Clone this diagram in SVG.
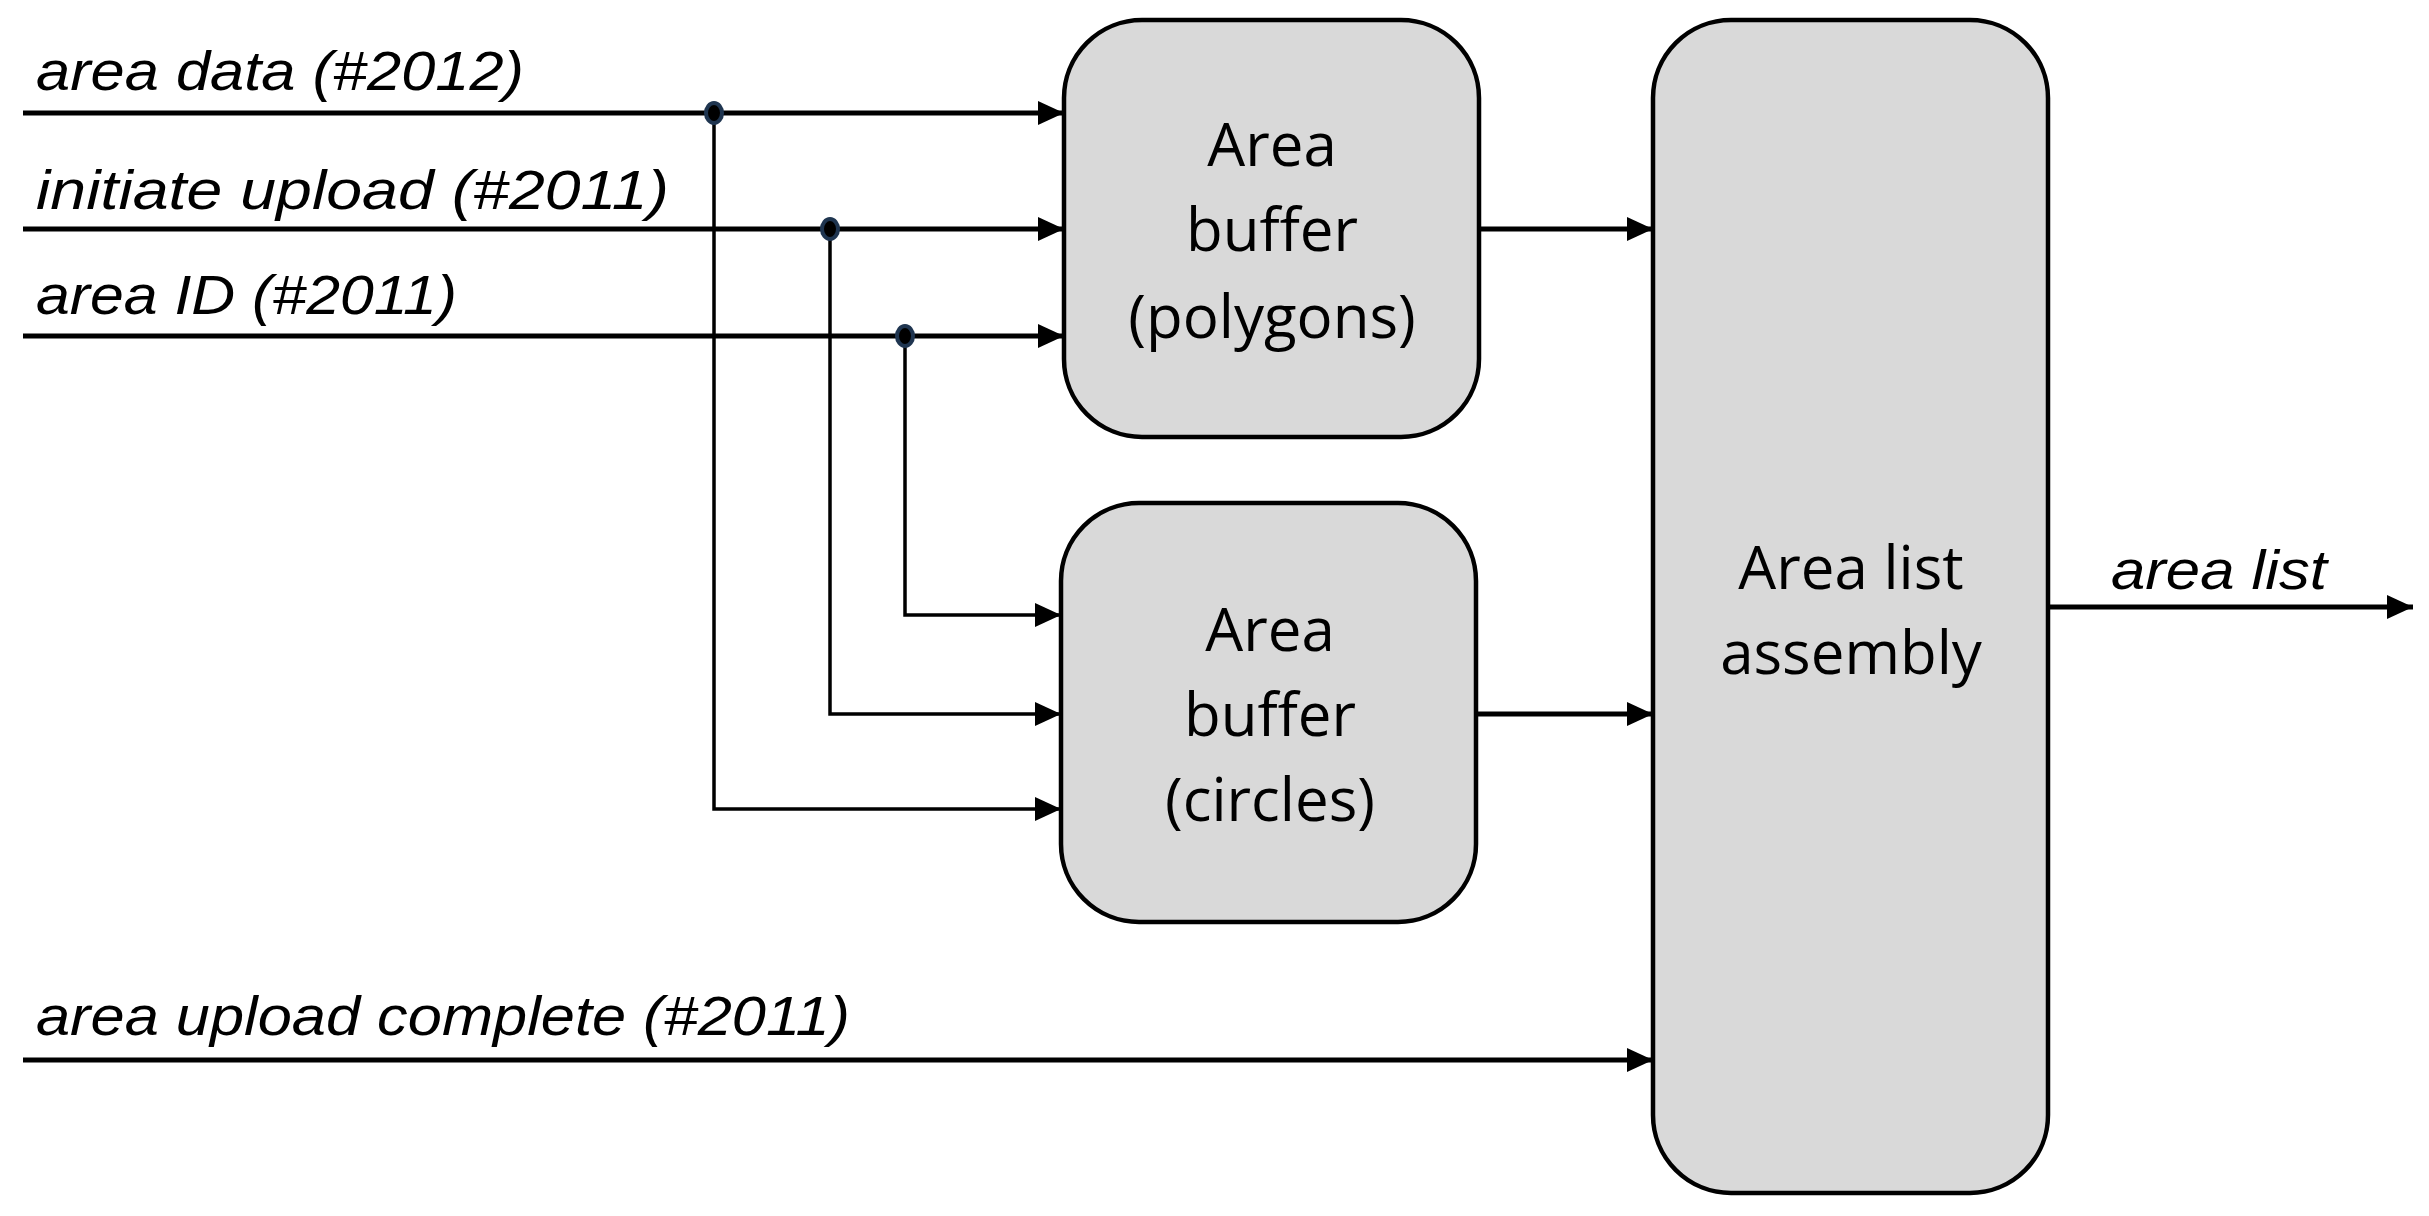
<svg xmlns="http://www.w3.org/2000/svg" width="2429" height="1216" viewBox="0 0 2429 1216">
<style>
.box{fill:#d9d9d9;stroke:#000;stroke-width:4.5}
.ln{fill:none;stroke:#000;stroke-width:5}
.vl{fill:none;stroke:#000;stroke-width:3.5}
.lbl{font-family:"Liberation Sans",Arial,sans-serif;font-style:italic;font-size:56px;fill:#000}
.bt{font-family:"Open Sans","Liberation Sans",sans-serif;font-size:60px;fill:#000;text-anchor:middle}
.dot{fill:#000;stroke:#1f3550;stroke-width:4}
</style>
<defs>
<marker id="ah" markerWidth="26" markerHeight="24" refX="26" refY="12" orient="auto" markerUnits="userSpaceOnUse">
<path d="M0,0 L26,12 L0,24 Z" fill="#000"/>
</marker>
</defs>
<g id="node-polygons">
<rect class="box" x="1064" y="20" width="415" height="417" rx="78"/>
<text class="bt" x="1272" y="166">Area</text>
<text class="bt" x="1272" y="251">buffer</text>
<text class="bt" x="1272" y="338">(polygons)</text>
</g>
<g id="node-circles">
<rect class="box" x="1061" y="503" width="415" height="419" rx="78"/>
<text class="bt" x="1270" y="651">Area</text>
<text class="bt" x="1270" y="736">buffer</text>
<text class="bt" x="1270" y="821">(circles)</text>
</g>
<g id="node-assembly">
<rect class="box" x="1653" y="20" width="395" height="1173" rx="78"/>
<text class="bt" x="1851" y="589">Area list</text>
<text class="bt" x="1851" y="674">assembly</text>
</g>
<g id="connectors">
<path class="ln" d="M23,113 H1064" marker-end="url(#ah)"/>
<path class="ln" d="M23,229 H1064" marker-end="url(#ah)"/>
<path class="ln" d="M23,336 H1064" marker-end="url(#ah)"/>
<path class="vl" d="M905,336 V615 H1061" marker-end="url(#ah)"/>
<path class="vl" d="M830,229 V714 H1061" marker-end="url(#ah)"/>
<path class="vl" d="M714,113 V809 H1061" marker-end="url(#ah)"/>
<path class="ln" d="M1479,229 H1653" marker-end="url(#ah)"/>
<path class="ln" d="M1476,714 H1653" marker-end="url(#ah)"/>
<path class="ln" d="M23,1060 H1653" marker-end="url(#ah)"/>
<path class="ln" d="M2048,607 H2413" marker-end="url(#ah)"/>
<ellipse class="dot" cx="714" cy="113" rx="8" ry="10"/>
<ellipse class="dot" cx="830" cy="229" rx="8" ry="10"/>
<ellipse class="dot" cx="905" cy="336" rx="8" ry="10"/>
</g>
<g id="labels">
<text class="lbl" x="36" y="90" textLength="488" lengthAdjust="spacingAndGlyphs">area data (#2012)</text>
<text class="lbl" x="36" y="209" textLength="633" lengthAdjust="spacingAndGlyphs">initiate upload  (#2011)</text>
<text class="lbl" x="36" y="314" textLength="421" lengthAdjust="spacingAndGlyphs">area ID (#2011)</text>
<text class="lbl" x="36" y="1035" textLength="814" lengthAdjust="spacingAndGlyphs">area upload complete (#2011)</text>
<text class="lbl" x="2111" y="589" textLength="216" lengthAdjust="spacingAndGlyphs">area list</text>
</g>
</svg>
